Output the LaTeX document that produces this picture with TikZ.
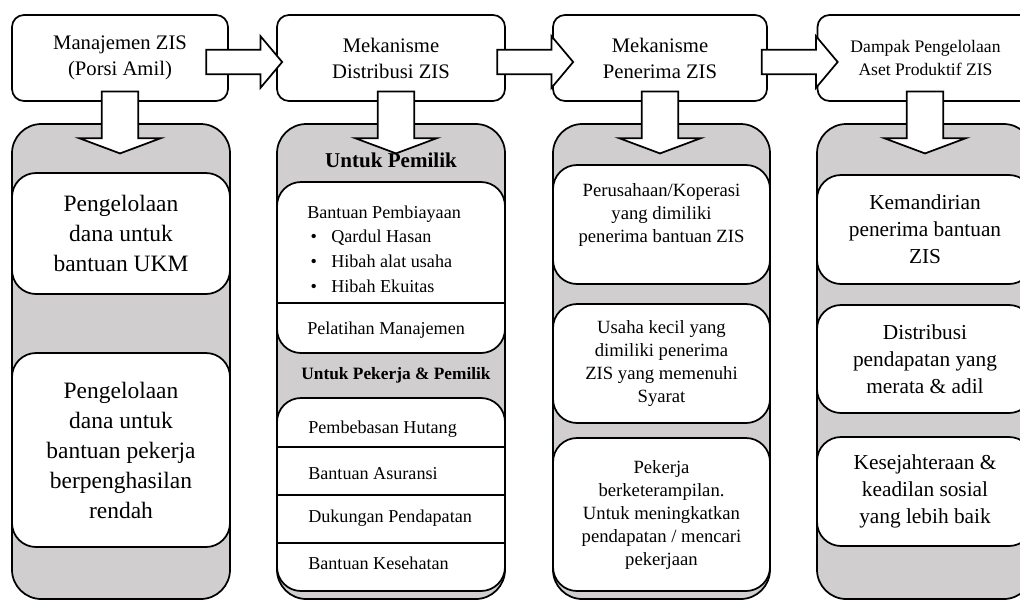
\documentclass[tikz,border=0pt]{standalone}
\usepackage{fontspec}
\setmainfont{Liberation Serif}
\usepackage{tikz}
\usetikzlibrary{shapes.arrows}
\pgfdeclarelayer{panellayer}
\pgfdeclarelayer{nodelayer}
\pgfsetlayers{panellayer,nodelayer,main}
\definecolor{panelgray}{RGB}{208,206,206}
\tikzstyle{top box}=[fill=white, draw=black, line width=1.3pt, rounded corners=9pt, inner sep=0pt, minimum height=64.5pt, align=center, font=\fontsize{15.5}{19.5}\selectfont]
\tikzstyle{panel}=[fill=panelgray, draw=black, line width=1.3pt, rounded corners=22pt, minimum height=356.25pt]
\tikzstyle{white box}=[fill=white, draw=black, line width=1.3pt, rounded corners=18pt, inner sep=0pt, align=center]
\tikzstyle{list item}=[anchor=west, inner sep=0pt, align=left, font=\fontsize{13.6}{18.5}\selectfont]
\tikzstyle{heading}=[inner sep=0pt, font=\bfseries\fontsize{15.8}{19}\selectfont]
\tikzstyle{divider}=[line width=1.3pt]
\tikzstyle{right arrow}=[single arrow, fill=white, draw=black, line width=1.3pt, inner xsep=0pt, inner ysep=8.6pt, single arrow head extend=10.1pt, single arrow tip angle=100, minimum width=0pt, minimum height=57pt]
\tikzstyle{down arrow}=[single arrow, fill=white, draw=black, line width=1.3pt, rotate=-90, inner xsep=0pt, inner ysep=13.1pt, single arrow head extend=16.9pt, single arrow tip angle=139, minimum width=0pt, minimum height=46.5pt]
\newcommand{\bul}[1]{\makebox[18pt][l]{\hspace{2.5pt}\textbullet}#1}

\begin{document}
\begin{tikzpicture}[x=0.75pt, y=-0.75pt]
    \useasboundingbox (0, 0) rectangle (1020, 601);
    	\begin{pgfonlayer}{panellayer}
    		\node [style=panel, minimum width=163.5pt] (4) at (121, 361.5) {};
    		\node [style=panel, minimum width=171pt] (5) at (391, 361.5) {};
    		\node [style=panel, minimum width=162.75pt] (6) at (661.5, 361.5) {};
    		\node [style=panel, minimum width=162pt] (7) at (925, 361.5) {};
    	\end{pgfonlayer}
    	\begin{pgfonlayer}{nodelayer}
    		\node [style=top box, minimum width=162pt] (0) at (120, 58) {Manajemen ZIS\\(Porsi Amil)};
    		\node [style=top box, minimum width=171pt] (1) at (391, 58) {Mekanisme\\Distribusi ZIS};
    		\node [style=top box, minimum width=160.5pt] (2) at (660, 58) {Mekanisme\\Penerima ZIS};
    		\node [style=top box, minimum width=162pt, font=\fontsize{13.2}{17.25}\selectfont] (3) at (925.5, 58) {Dampak Pengelolaan\\Aset Produktif ZIS};
    		% kolom 1
    		\node [style=white box, minimum width=163.5pt, minimum height=90.75pt, font=\fontsize{17.6}{22.5}\selectfont] (8) at (121, 233.5) {Pengelolaan\\dana untuk\\bantuan UKM};
    		\node [style=white box, minimum width=163.5pt, minimum height=145.5pt, font=\fontsize{17.6}{22.5}\selectfont] (9) at (121, 450) {Pengelolaan\\dana untuk\\bantuan pekerja\\berpenghasilan\\rendah};
    		% kolom 2
    		\node [style=heading] (10) at (391, 160) {Untuk Pemilik};
    		\node [style=white box, minimum width=171pt, minimum height=128.25pt] (11) at (391, 267.5) {};
    		\node [style=list item] (12) at (307, 249) {Bantuan Pembiayaan\\\bul{Qardul Hasan}\\\bul{Hibah alat usaha}\\\bul{Hibah Ekuitas}};
    		\node [style=list item] (13) at (307, 330) {Pelatihan Manajemen};
    		\node [style=heading, font=\bfseries\fontsize{13}{16}\selectfont] (14) at (396, 375) {Untuk Pekerja \& Pemilik};
    		\node [style=white box, minimum width=171pt, minimum height=144.75pt] (15) at (391, 494.5) {};
    		\node [style=list item] (16) at (308, 429) {Pembebasan Hutang};
    		\node [style=list item] (17) at (308, 474) {Bantuan Asuransi};
    		\node [style=list item] (18) at (308, 518) {Dukungan Pendapatan};
    		\node [style=list item] (19) at (308, 563) {Bantuan Kesehatan};
    		% kolom 3
    		\node [style=white box, minimum width=162.75pt, minimum height=89.25pt] (20) at (661.5, 224.5) {};
    		\node [align=center, inner sep=0pt, font=\fontsize{14}{17.25}\selectfont] (21) at (661.5, 215) {Perusahaan/Koperasi\\yang dimiliki\\penerima bantuan ZIS};
    		\node [style=white box, minimum width=162.75pt, minimum height=89.25pt, font=\fontsize{14}{17.25}\selectfont] (22) at (661.5, 363.5) {Usaha kecil yang\\dimiliki penerima\\ZIS yang memenuhi\\Syarat};
    		\node [style=white box, minimum width=162.75pt, minimum height=114.75pt, font=\fontsize{14}{17.25}\selectfont] (23) at (661.5, 514.5) {Pekerja\\berketerampilan.\\Untuk meningkatkan\\pendapatan / mencari\\pekerjaan};
    		% kolom 4
    		\node [style=white box, minimum width=162pt, minimum height=81.75pt, font=\fontsize{16}{20.25}\selectfont] (24) at (925, 229.5) {Kemandirian\\penerima bantuan\\ZIS};
    		\node [style=white box, minimum width=162pt, minimum height=81pt, font=\fontsize{16}{20.25}\selectfont] (25) at (925, 359) {Distribusi\\pendapatan yang\\merata \& adil};
    		\node [style=white box, minimum width=162pt, minimum height=81.75pt, font=\fontsize{16}{20.25}\selectfont] (26) at (925, 491.5) {Kesejahteraan \&\\keadilan sosial\\yang lebih baik};
    		\draw [style=divider] (11.west |- 0, 303) -- (11.east |- 0, 303);
    		\draw [style=divider] (15.west |- 0, 447) -- (15.east |- 0, 447);
    		\draw [style=divider] (15.west |- 0, 495) -- (15.east |- 0, 495);
    		\draw [style=divider] (15.west |- 0, 543) -- (15.east |- 0, 543);
    	\end{pgfonlayer}
    	\node [style=right arrow] (27) at (239, 62) {};
    	\node [style=right arrow] (28) at (530, 62) {};
    	\node [style=right arrow] (29) at (794.5, 62) {};
    	\node [style=down arrow] (30) at (120, 119) {};
    	\node [style=down arrow] (31) at (396, 119) {};
    	\node [style=down arrow] (32) at (660, 119) {};
    	\node [style=down arrow] (33) at (925, 119) {};
    \end{tikzpicture}
\end{document}
